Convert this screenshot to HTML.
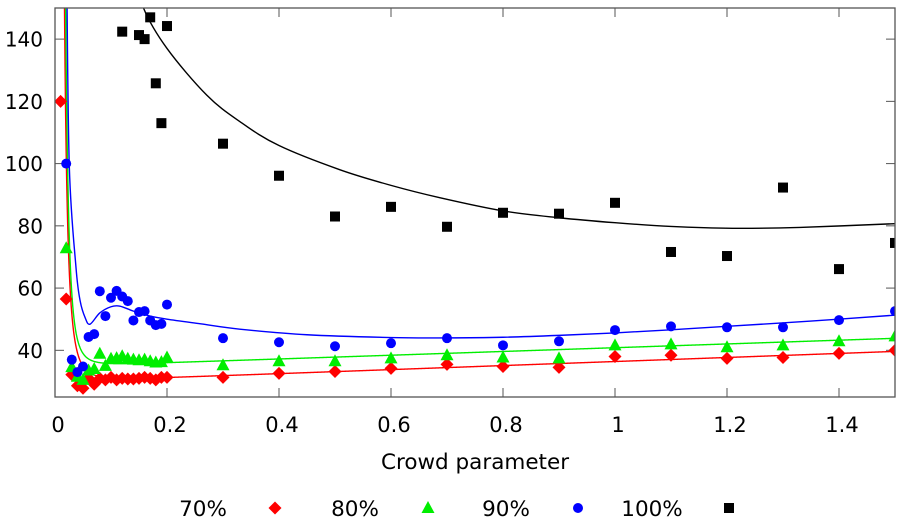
<!DOCTYPE html>
<html><head><meta charset="utf-8">
<style>
html,body{margin:0;padding:0;background:#fff;}
svg{display:block;font-family:"DejaVu Sans","Liberation Sans",sans-serif;}
</style></head>
<body>
<svg id="chart" width="908" height="528" viewBox="0 0 908 528" xmlns="http://www.w3.org/2000/svg">
<defs><clipPath id="plotclip"><rect x="55" y="8" width="840" height="389"/></clipPath></defs>
<g id="grid-layer"></g>
<g id="curves" clip-path="url(#plotclip)"></g>
<g id="points" clip-path="url(#plotclip)"></g>
<rect x="55" y="8" width="840" height="389" fill="none" stroke="#555" stroke-width="1.3"/>
<text x="475" y="469" font-size="21.5" text-anchor="middle">Crowd parameter</text>
<g id="legend"></g>
</svg>
<script>
const xTicks = [0, 0.2, 0.4, 0.6, 0.8, 1, 1.2, 1.4];
const xTickLabels = ["0","0.2","0.4","0.6","0.8","1","1.2","1.4"];
const yTicks = [40, 60, 80, 100, 120, 140];
const yTickLabels = ["40","60","80","100","120","140"];
const seriesNames = ["70%","80%","90%","100%"];

const redX = [0.01,0.02,0.03,0.04,0.05,0.06,0.07,0.08,0.09,0.1,0.11,0.12,0.13,0.14,0.15,0.16,0.17,0.18,0.19,0.2,0.3,0.4,0.5,0.6,0.7,0.8,0.9,1.0,1.1,1.2,1.3,1.4,1.5];
const redY = [120,56.5,32.2,28.6,27.8,31,29.1,31,30.5,31.3,30.5,31,30.8,30.8,31,31.3,31,30.5,31.3,31.3,31.3,32.6,33.2,34.2,35.5,34.8,34.5,38,38.4,37.4,37.7,39,40];
const greenX = [0.02,0.03,0.04,0.05,0.06,0.07,0.08,0.09,0.1,0.11,0.12,0.13,0.14,0.15,0.16,0.17,0.18,0.19,0.2,0.3,0.4,0.5,0.6,0.7,0.8,0.9,1.0,1.1,1.2,1.3,1.4,1.5];
const greenY = [72.8,34.6,31.5,30.5,33.5,34,38.9,35,37.3,37.5,38.1,37.3,37,36.8,37,36.5,36.1,36.2,37.7,35.2,36.5,36.5,37.4,38.4,37.7,37.4,41.6,41.9,41,41.6,42.9,44.5];
const blueX = [0.02,0.03,0.04,0.05,0.06,0.07,0.08,0.09,0.1,0.11,0.12,0.13,0.14,0.15,0.16,0.17,0.18,0.19,0.2,0.3,0.4,0.5,0.6,0.7,0.8,0.9,1.0,1.1,1.2,1.3,1.4,1.5];
const blueY = [100,37,33,34.8,44.3,45.2,59,51,56.9,59.1,57.3,55.8,49.6,52.3,52.6,49.6,48.1,48.5,54.7,43.9,42.6,41.3,42.3,43.9,41.6,42.9,46.5,47.7,47.4,47.4,49.7,52.6];
const blackX = [0.12,0.15,0.16,0.17,0.18,0.19,0.2,0.3,0.4,0.5,0.6,0.7,0.8,0.9,1.0,1.1,1.2,1.3,1.4,1.5];
const blackY = [142.4,141.3,140,147,125.8,113,144.2,106.4,96.1,83,86.1,79.7,84.2,83.9,87.4,71.6,70.3,92.3,66.1,74.5];

// fit curve parameters: y = a + b*x + k/x^p  -> [a, b, k, p]
const redFit = [29.9, 6.5, 5.85e-4, 3];
const greenFit = [34.8, 6.04, 1.09e-4, 3.5];
const blueCurveX = [0.021,0.0256,0.0375,0.045,0.054,0.0625,0.08,0.1,0.116,0.14,0.17,0.2,0.26,0.33,0.45,0.6,0.7,0.8,0.9,1.0,1.1,1.2,1.35,1.5];
const blueCurveY = [160,98.8,66.6,55.8,50.4,48.4,52,54,54.2,52.6,51,50,48.5,46.8,45,44.1,44,44.2,44.8,45.6,46.6,47.7,49.4,51.3];
const blackCurveX = [0.14,0.158,0.2,0.271,0.33,0.4,0.509,0.6,0.688,0.8,0.9,1.0,1.1,1.21,1.33,1.5];
const blackCurveY = [163,150,137,122,113.5,105.8,98,93,89,84.8,82.6,81,79.8,79.2,79.5,80.7];

const NS = "http://www.w3.org/2000/svg";
const X0=55, X1=895, Y0=397, Y1=8, XMIN=0, XMAX=1.5, YMIN=25, YMAX=150;
function sx(v){return X0+(v-XMIN)/(XMAX-XMIN)*(X1-X0);}
function sy(v){return Y0-(v-YMIN)/(YMAX-YMIN)*(Y0-Y1);}
function mk(tag,attrs,parent){const e=document.createElementNS(NS,tag);for(const k in attrs)e.setAttribute(k,attrs[k]);parent.appendChild(e);return e;}

const axes=document.getElementById('grid-layer');
xTicks.forEach((t,i)=>{
  const x=sx(t);
  const tb=mk('line',{x1:x,x2:x,y1:Y0,y2:Y0-9,stroke:'#555','stroke-width':1},axes);
  
  
  const tt=mk('line',{x1:x,x2:x,y1:Y1,y2:Y1+9,stroke:'#555','stroke-width':1},axes);
  
  
  const lb=mk('text',{x:x+3,y:432,'font-size':21,'text-anchor':'middle'},axes);
  lb.textContent=xTickLabels[i];
  
  
});
yTicks.forEach((t,i)=>{
  const y=sy(t);
  const tl=mk('line',{x1:X0,x2:X0+9,y1:y,y2:y,stroke:'#555','stroke-width':1},axes);
  
  
  const tr=mk('line',{x1:X1,x2:X1-9,y1:y,y2:y,stroke:'#555','stroke-width':1},axes);
  
  
  const lb=mk('text',{x:43,y:y+7.5,'font-size':20,'text-anchor':'end'},axes);
  lb.textContent=yTickLabels[i];
  
  
});

const curves=document.getElementById('curves');
function fitPath(p){
  let d='';
  for(let i=0;i<=1500;i++){
    const x=0.012+i*(1.5-0.012)/1500;
    let y=p[0]+p[1]*x+p[2]/Math.pow(x,p[3]);
    if(y>200)y=200;
    d+=(i?'L':'M')+sx(x).toFixed(2)+','+sy(y).toFixed(2);
  }
  return d;
}
function splinePath(xs,ys){
  const P=xs.map((x,i)=>[sx(x),sy(ys[i])]);
  let d='M'+P[0][0]+','+P[0][1];
  for(let i=0;i<P.length-1;i++){
    const p0=P[i-1]||P[i],p1=P[i],p2=P[i+1],p3=P[i+2]||P[i+1];
    const c1=[p1[0]+(p2[0]-p0[0])/6,p1[1]+(p2[1]-p0[1])/6];
    const c2=[p2[0]-(p3[0]-p1[0])/6,p2[1]-(p3[1]-p1[1])/6];
    d+='C'+c1.join(',')+' '+c2.join(',')+' '+p2.join(',');
  }
  return d;
}
const cr=mk('path',{d:fitPath(redFit),fill:'none',stroke:'#ff0000','stroke-width':1.4},curves);


const cg=mk('path',{d:fitPath(greenFit),fill:'none',stroke:'#00ee00','stroke-width':1.4},curves);


const cb=mk('path',{d:splinePath(blueCurveX,blueCurveY),fill:'none',stroke:'#0000ff','stroke-width':1.4},curves);


const ck=mk('path',{d:splinePath(blackCurveX,blackCurveY),fill:'none',stroke:'#000','stroke-width':1.4},curves);



function marker(kind,cx,cy,parent){
  let e;
  if(kind==='diamond') e=mk('polygon',{points:`${cx},${cy-6.5} ${cx+6.5},${cy} ${cx},${cy+6.5} ${cx-6.5},${cy}`,fill:'#ff0000'},parent);
  else if(kind==='triangle') e=mk('polygon',{points:`${cx},${cy-7} ${cx+6.5},${cy+5} ${cx-6.5},${cy+5}`,fill:'#00ee00'},parent);
  else if(kind==='circle') e=mk('circle',{cx:cx,cy:cy,r:5,fill:'#0000ff'},parent);
  else e=mk('rect',{x:cx-5,y:cy-5,width:10,height:10,fill:'#000'},parent);
  return e;
}
const pts=document.getElementById('points');
[[redX,redY,'diamond','point-70'],[greenX,greenY,'triangle','point-80'],[blueX,blueY,'circle','point-90'],[blackX,blackY,'square','point-100']].forEach(s=>{
  s[0].forEach((x,i)=>{
    const e=marker(s[2],sx(x),sy(s[1][i]),pts);
    
    
  });
});

const legend=document.getElementById('legend');
const legTextX=[203,355,506,652], legMarkX=[275,428,578,729], legKinds=['diamond','triangle','circle','square'];
seriesNames.forEach((n,i)=>{
  const t=mk('text',{x:legTextX[i],y:516,'font-size':21.5,'text-anchor':'middle'},legend);
  t.textContent=n;
  
  
  const m=marker(legKinds[i],legMarkX[i],508,legend);
  
  
});
</script>
</body></html>
